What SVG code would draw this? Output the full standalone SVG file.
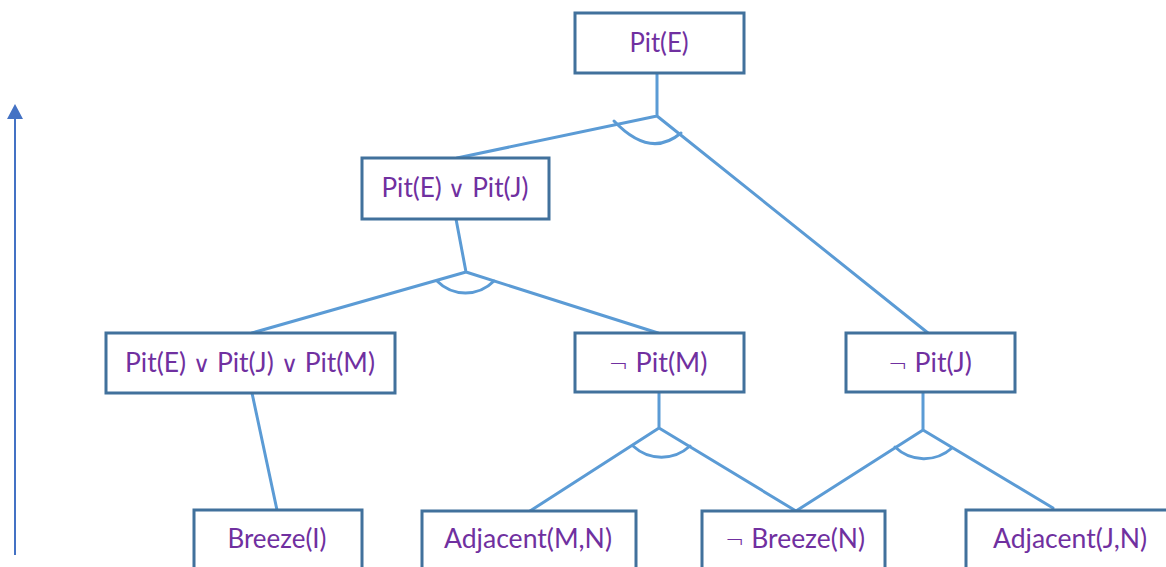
<svg xmlns="http://www.w3.org/2000/svg" width="1166" height="567" viewBox="0 0 1166 567">
<style>
.box{fill:#fff;stroke:#41719C;stroke-width:3}
.lbl{font-family:Lato,"Open Sans","Liberation Sans",sans-serif;font-size:26px;fill:#7030A0;text-anchor:middle}
.sym{font-family:"DejaVu Sans","Noto Sans",sans-serif;font-size:23px;font-weight:200}
.con{fill:none;stroke:#5B9BD5;stroke-width:3;stroke-linecap:round}
</style>
<rect width="1166" height="567" fill="#fff"/>
<g id="arrow">
<line x1="15" y1="555" x2="15" y2="116" stroke="#4472C4" stroke-width="2"/>
<polygon points="15,104 23,119 7,119" fill="#4472C4"/>
</g>
<g id="connectors">
<path class="con" d="M657 73 V116 M657 116 L457 158 M657 116 L928 333"/>
<path class="con" d="M614 121 Q650 159 681 133"/>
<path class="con" d="M456 219 L466 272 M466 272 L252 333 M466 272 L658 333"/>
<path class="con" d="M437 281 A40 40 0 0 0 494 281"/>
<path class="con" d="M252 393 L277 510"/>
<path class="con" d="M659 392 V428 M659 428 L530 511 M659 428 L796 511"/>
<path class="con" d="M633 446 A42 42 0 0 0 690 446"/>
<path class="con" d="M923 392 V430 M923 430 L796 511 M923 430 L1053 508"/>
<path class="con" d="M895 447 A42 42 0 0 0 952 448"/>
</g>
<g id="n_pitE"><rect class="box" x="575" y="13" width="169" height="60"/><text class="lbl" x="659" y="52" textLength="59" lengthAdjust="spacingAndGlyphs">Pit(E)</text></g>
<g id="n_pitEJ"><rect class="box" x="362" y="158" width="187" height="61"/><text class="lbl" x="455" y="197" textLength="147" lengthAdjust="spacingAndGlyphs">Pit(E) <tspan class="sym">∨</tspan> Pit(J)</text></g>
<g id="n_pitEJM"><rect class="box" x="106" y="333" width="289" height="60"/><text class="lbl" x="250" y="372" textLength="250" lengthAdjust="spacingAndGlyphs">Pit(E) <tspan class="sym">∨</tspan> Pit(J) <tspan class="sym">∨</tspan> Pit(M)</text></g>
<g id="n_notPitM"><rect class="box" x="575" y="333" width="169" height="59"/><text class="lbl" x="658" y="372" textLength="99" lengthAdjust="spacingAndGlyphs"><tspan class="sym">¬</tspan> Pit(M)</text></g>
<g id="n_notPitJ"><rect class="box" x="846" y="333" width="169" height="59"/><text class="lbl" x="930" y="372" textLength="84" lengthAdjust="spacingAndGlyphs"><tspan class="sym">¬</tspan> Pit(J)</text></g>
<g id="n_breezeI"><rect class="box" x="194" y="510" width="168" height="80"/><text class="lbl" x="277" y="548" textLength="99" lengthAdjust="spacingAndGlyphs">Breeze(I)</text></g>
<g id="n_adjMN"><rect class="box" x="422" y="511" width="214" height="80"/><text class="lbl" x="528" y="548" textLength="168" lengthAdjust="spacingAndGlyphs">Adjacent(M,N)</text></g>
<g id="n_notBreezeN"><rect class="box" x="702" y="511" width="183" height="80"/><text class="lbl" x="795" y="548" textLength="140" lengthAdjust="spacingAndGlyphs"><tspan class="sym">¬</tspan> Breeze(N)</text></g>
<g id="n_adjJN"><rect class="box" x="966" y="510" width="220" height="80"/><text class="lbl" x="1070" y="548" textLength="154" lengthAdjust="spacingAndGlyphs">Adjacent(J,N)</text></g>
</svg>
